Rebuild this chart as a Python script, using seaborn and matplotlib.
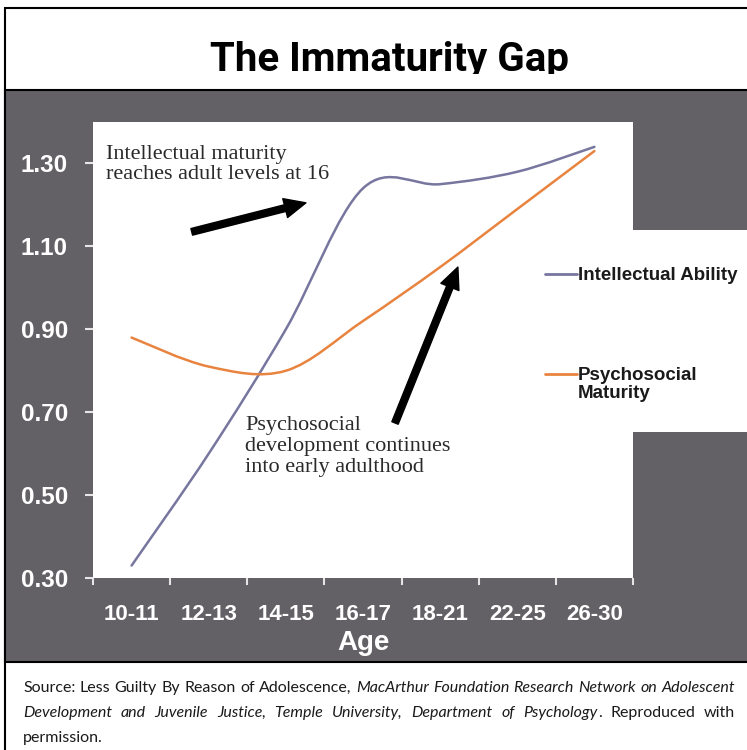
import numpy as np
import seaborn as sns
import matplotlib.pyplot as plt
from matplotlib.path import Path
from matplotlib.patches import PathPatch, Rectangle
from matplotlib.lines import Line2D

# data
ages = ['10-11', '12-13', '14-15', '16-17', '18-21', '22-25', '26-30']
intellectual = [0.33, 0.60, 0.90, 1.24, 1.25, 1.28, 1.34]
psychosocial = [0.88, 0.81, 0.80, 0.92, 1.05, 1.19, 1.33]
y_ticks = [0.30, 0.50, 0.70, 0.90, 1.10, 1.30]
series_names = ['Intellectual Ability', 'Psychosocial\nMaturity']
series_colors = ['#77769f', '#e8843f']

W, H = 747, 750
sns.set_theme(style='white')
plt.rcParams['font.family'] = ['Liberation Sans', 'DejaVu Sans']


def fx(px):
    return px / W


def fy(py):
    return 1 - py / H


fig = plt.figure(figsize=(W / 100, H / 100), dpi=100)
fig.patch.set_facecolor('white')

# outer boxes
dark = '#636166'
fig.add_artist(Rectangle((fx(5), fy(760)), fx(800), fy(8) - fy(760), transform=fig.transFigure,
                         facecolor='white', edgecolor='black', lw=1.5, zorder=-3))
fig.add_artist(Rectangle((fx(5), fy(662)), fx(800), fy(90) - fy(662), transform=fig.transFigure,
                         facecolor=dark, edgecolor='black', lw=1.5, zorder=-2))
# white cut-out holding the legend
fig.add_artist(Rectangle((fx(630), fy(432)), fx(200), fy(230) - fy(432), transform=fig.transFigure,
                         facecolor='white', edgecolor='none', zorder=-1))

# title (descenders clipped as in the original)
title = fig.text(fx(389), fy(71), 'The Immaturity Gap', ha='center', va='baseline', color='black',
                 fontsize=29, fontweight='bold', family=['Roboto', 'DejaVu Sans'])
clip = Rectangle((0, fy(74)), 1, 1, transform=fig.transFigure)
title.set_clip_path(clip)

ax = fig.add_axes([fx(93), fy(578), fx(633) - fx(93), fy(122) - fy(578)])
ax.set_facecolor('white')


def smooth_path(xs, ys):
    # Excel-style smoothed line: bezier segments through the data points
    pts = np.column_stack([xs, ys]).astype(float)
    p = np.vstack([pts[0], pts, pts[-1]])
    verts = [pts[0]]
    codes = [Path.MOVETO]
    for i in range(1, len(p) - 2):
        c1 = p[i] + (p[i + 1] - p[i - 1]) / 6
        c2 = p[i + 1] - (p[i + 2] - p[i]) / 6
        verts += [c1, c2, p[i + 1]]
        codes += [Path.CURVE4] * 3
    return Path(verts, codes)


pos = np.arange(len(ages))
for vals, col in zip([intellectual, psychosocial], series_colors):
    ax.add_patch(PathPatch(smooth_path(pos, vals), facecolor='none', edgecolor=col, lw=1.8,
                           capstyle='round', zorder=3))

ax.set_xlim(-0.5, len(ages) - 0.5)
ax.set_ylim(0.30, 1.40)
ax.set_yticks(y_ticks)
ax.set_yticklabels(['%.2f' % v for v in y_ticks])
ax.set_xticks(pos)
ax.set_xticklabels(ages)
ax.set_xticks(np.arange(-0.5, len(ages)), minor=True)
for s in ax.spines.values():
    s.set_visible(False)
ax.tick_params(axis='y', which='major', left=True, direction='out', length=6, width=1.5,
               color='#e6e6e6', pad=12, labelsize=17.5, labelcolor='white')
ax.tick_params(axis='x', which='major', bottom=True, length=0, pad=19, labelsize=16,
               labelcolor='white')
ax.tick_params(axis='x', which='minor', bottom=True, direction='out', length=5, width=1.5,
               color='#e6e6e6')
for t in ax.get_xticklabels() + ax.get_yticklabels():
    t.set_fontweight('bold')
ax.set_xlabel('Age', color='white', fontsize=20, fontweight='bold', labelpad=3)

# annotations
ax.text(-0.33, 1.345, 'Intellectual maturity\nreaches adult levels at 16', ha='left', va='top',
        fontsize=16, family='Liberation Serif', color='#2a2a2a', linespacing=1.12)
ax.text(1.47, 0.69, 'Psychosocial\ndevelopment continues\ninto early adulthood', ha='left', va='top',
        fontsize=16, family='Liberation Serif', color='#2a2a2a', linespacing=1.12)
arrow = dict(arrowstyle='simple,head_length=1.1,head_width=1.0,tail_width=0.35',
             fc='black', ec='black', mutation_scale=14, shrinkA=0, shrinkB=0)
ax.annotate('', xy=(2.26, 1.205), xytext=(0.78, 1.135), arrowprops=arrow)
ax.annotate('', xy=(4.23, 1.05), xytext=(3.415, 0.674), arrowprops=arrow)

# legend in the white cut-out
handles = [Line2D([], [], color=c, lw=2) for c in series_colors]
leg = ax.legend(handles, series_names, loc='upper left', bbox_to_anchor=(fx(545), fy(267)),
                bbox_transform=fig.transFigure, frameon=False, borderpad=0, borderaxespad=0,
                handlelength=1.7, handletextpad=0.05, labelspacing=4.45,
                prop={'weight': 'bold', 'size': 13.5})
for t in leg.get_texts():
    t.set_color('#1a1a1a')
    t.set_linespacing(1.05)
# keep the handle level with the first line of a two-line label
for col in leg._legend_handle_box.get_children():
    for row in col.get_children():
        row.align = 'top'

# source note, justified
renderer = fig.canvas.get_renderer()
src_lines = [
    ([('Source:', 'normal'), ('Less', 'normal'), ('Guilty', 'normal'), ('By', 'normal'),
      ('Reason', 'normal'), ('of', 'normal'), ('Adolescence,', 'normal'), ('MacArthur', 'italic'),
      ('Foundation', 'italic'), ('Research', 'italic'), ('Network', 'italic'), ('on', 'italic'),
      ('Adolescent', 'italic')], True),
    ([('Development', 'italic'), ('and', 'italic'), ('Juvenile', 'italic'), ('Justice,', 'italic'),
      ('Temple', 'italic'), ('University,', 'italic'), ('Department', 'italic'), ('of', 'italic'),
      ('Psychology', 'italic', '.'), ('Reproduced', 'normal'), ('with', 'normal')], True),
    ([('permission.', 'normal')], False),
]
src_font = dict(fontsize=11.5, family=['Lato', 'DejaVu Sans'], color='#1a1a1a', va='baseline')
x0, x1 = 23, 735
for row, (words, justify) in enumerate(src_lines):
    y = fy(692 + row * 25)
    items = []
    for w in words:
        parts = [fig.text(0, y, w[0], style=w[1], **src_font)]
        if len(w) > 2:
            parts.append(fig.text(0, y, w[2], **src_font))
        items.append(parts)
    widths = [[p.get_window_extent(renderer).width for p in parts] for parts in items]
    total = sum(sum(w) for w in widths)
    gap = (x1 - x0 - total) / (len(items) - 1) if justify else 4
    x = x0
    for parts, ws in zip(items, widths):
        for p, wd in zip(parts, ws):
            p.set_x(fx(x))
            x += wd
        x += gap

fig.savefig('out.png', dpi=100)
